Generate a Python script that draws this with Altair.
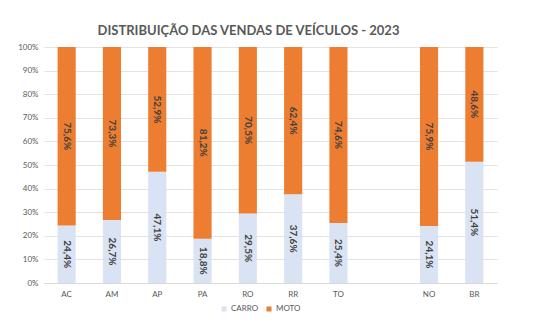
import altair as alt
import pandas as pd

categorias = ["AC", "AM", "AP", "PA", "RO", "RR", "TO", " ", "NO", "BR"]
carro = [24.4, 26.7, 47.1, 18.8, 29.5, 37.6, 25.4, None, 24.1, 51.4]
moto = [75.6, 73.3, 52.9, 81.2, 70.5, 62.4, 74.6, None, 75.9, 48.6]
series = ["CARRO", "MOTO"]
cores = ["#DAE3F3", "#ED7D31"]
ticks_y = [0, 10, 20, 30, 40, 50, 60, 70, 80, 90, 100]

rows = []
for c, a, b in zip(categorias, carro, moto):
    if a is None:
        continue
    rows.append({"uf": c, "serie": "CARRO", "ordem": 0, "valor": a})
    rows.append({"uf": c, "serie": "MOTO", "ordem": 1, "valor": b})
df = pd.DataFrame(rows)

FONT = "Lato"
GREY = "#595959"

xscale = alt.Scale(domain=categorias, paddingInner=0.6, paddingOuter=0.3)
yscale = alt.Scale(domain=[0, 100], nice=False)
xaxis = alt.Axis(title=None, labelAngle=0, ticks=False, labelPadding=7, labelFontSize=8,
                 labelColor=GREY, labelFont=FONT, domainColor="#D9D9D9", grid=False)
yaxis = alt.Axis(title=None, values=ticks_y, labelExpr="datum.value + '%'",
                 ticks=False, domain=False, labelFontSize=8, labelColor=GREY, labelFont=FONT,
                 gridColor="#E3E3E3", labelPadding=6, labelOverlap=False)

bars = alt.Chart(df).mark_bar().encode(
    x=alt.X("uf:N", sort=categorias, scale=xscale, axis=xaxis),
    y=alt.Y("valor:Q", stack="zero", scale=yscale, axis=yaxis),
    color=alt.Color("serie:N", scale=alt.Scale(domain=series, range=cores),
                    legend=alt.Legend(title=None, orient="none", direction="horizontal",
                                      legendX=176, legendY=258, symbolType="square", symbolSize=25,
                                      symbolStrokeWidth=0, labelFontSize=8, labelColor=GREY,
                                      labelFont=FONT, columnPadding=6, labelOffset=3)),
    order=alt.Order("ordem:Q"),
)

labels = alt.Chart(df).transform_stack(
    stack="valor", groupby=["uf"], as_=["y0", "y1"], sort=[alt.SortField("ordem", order="ascending")]
).transform_calculate(
    mid="(datum.y0 + datum.y1) / 2",
    txt="replace(format(datum.valor, '.1f'), '.', ',') + '%'",
).mark_text(angle=90, font=FONT, fontSize=10, fontWeight="bold", color="#404040").encode(
    x=alt.X("uf:N", sort=categorias, scale=xscale, axis=xaxis),
    y=alt.Y("mid:Q", scale=yscale, axis=yaxis),
    text="txt:N",
)

chart = (bars + labels).properties(
    width=453, height=236,
    title=alt.TitleParams("DISTRIBUIÇÃO DAS VENDAS DE VEÍCULOS - 2023", font=FONT, fontSize=13,
                          fontWeight="bold", color=GREY, offset=5, dx=-22, anchor="middle"),
    padding={"left": 44, "top": 47, "right": 45, "bottom": 47},
    autosize=alt.AutoSizeParams(type="none"),
).configure_view(stroke=None)

chart.save("out.html", embed_options={"renderer": "svg", "actions": False})
